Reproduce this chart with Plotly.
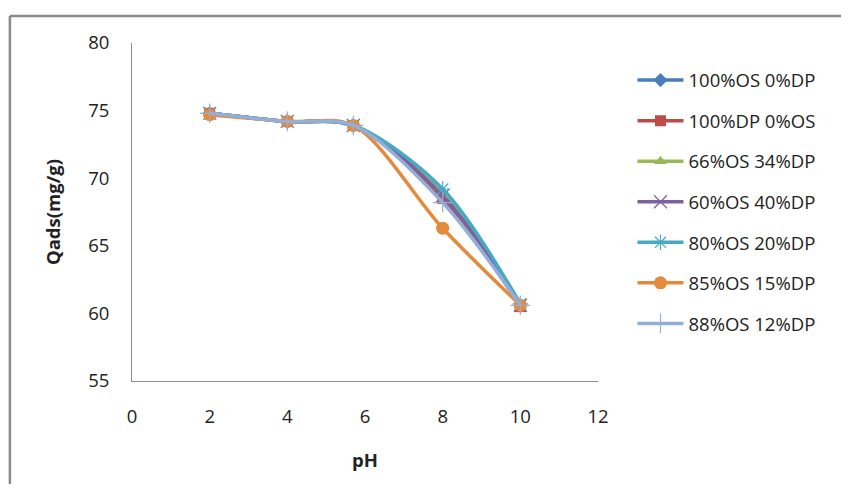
import plotly.graph_objects as go

# pH values and adsorbed quantity for each mixture
ph = [2, 4, 5.7, 8, 10]

series_names = [
    "100%OS 0%DP",
    "100%DP 0%OS",
    "66%OS 34%DP",
    "60%OS 40%DP",
    "80%OS 20%DP",
    "85%OS 15%DP",
    "88%OS 12%DP",
]

qads_100os = [74.8, 74.2, 73.9, 68.8, 60.6]
qads_100dp = [74.8, 74.2, 73.9, 68.5, 60.5]
qads_66os = [74.8, 74.2, 73.9, 69.0, 60.6]
qads_60os = [74.8, 74.2, 73.9, 68.7, 60.6]
qads_80os = [74.8, 74.2, 73.9, 69.2, 60.7]
qads_85os = [74.7, 74.2, 73.9, 66.3, 60.6]
qads_88os = [74.8, 74.2, 73.9, 68.2, 60.6]

all_values = [qads_100os, qads_100dp, qads_66os, qads_60os,
              qads_80os, qads_85os, qads_88os]

colors = ["#4A7EBB", "#BE4B48", "#98B954", "#7D60A0", "#46AAC5", "#E48A3D", "#93AFD8"]
symbols = ["diamond", "square", "triangle-up", "x-thin-open",
           "asterisk-open", "circle", "cross-thin-open"]
sizes = [11, 11, 11, 13, 13, 13, 14]

fig = go.Figure()
for i, (name, vals) in enumerate(zip(series_names, all_values)):
    thin = symbols[i].endswith("-open")
    fig.add_trace(go.Scatter(
        x=ph, y=vals, name=name, mode="lines+markers",
        line=dict(color=colors[i], width=3.5, shape="spline", smoothing=0.9),
        marker=dict(symbol=symbols[i], size=sizes[i], color=colors[i],
                    line=dict(color=colors[i], width=1.2 if thin else 0)),
        legendgroup=name,
    ))

# chart-area frame: only top and left edges are inside the picture
frame = dict(color="#8A8A8A", width=2.5)

# page body adds an 8px margin, so the figure is shrunk to avoid scrollbars
fig.update_layout(
    width=833, height=476,
    margin=dict(l=124, r=243, t=35, b=103),
    paper_bgcolor="white", plot_bgcolor="white",
    font=dict(family="Open Sans", size=18.5, color="#222222"),
    showlegend=True,
    legend=dict(x=1.074, y=0.945, xanchor="left", yanchor="top",
                traceorder="grouped", tracegroupgap=13.5, itemwidth=46,
                font=dict(size=18.5), bgcolor="rgba(0,0,0,0)"),
    xaxis=dict(range=[0, 12], dtick=2, showgrid=False, zeroline=False,
               showline=True, linecolor="#8C8C8C", linewidth=1,
               ticks="", ticklabelstandoff=19,
               title=dict(text="<b>pH</b>", standoff=26, font=dict(size=18.5))),
    yaxis=dict(range=[55, 80], dtick=5, showgrid=False, zeroline=False,
               showline=True, linecolor="#8C8C8C", linewidth=1,
               ticks="", ticklabelstandoff=18,
               title=dict(text="<b>Qads(mg/g)</b>", standoff=22, font=dict(size=18.5))),
    shapes=[
        dict(type="line", xref="paper", yref="paper",
             x0=-0.262, x1=1.8, y0=1.08, y1=1.08, line=frame, layer="below"),
        dict(type="line", xref="paper", yref="paper",
             x0=-0.262, x1=-0.262, y0=-0.5, y1=1.08, line=frame, layer="below"),
    ],
)

fig.write_html("out.html")
